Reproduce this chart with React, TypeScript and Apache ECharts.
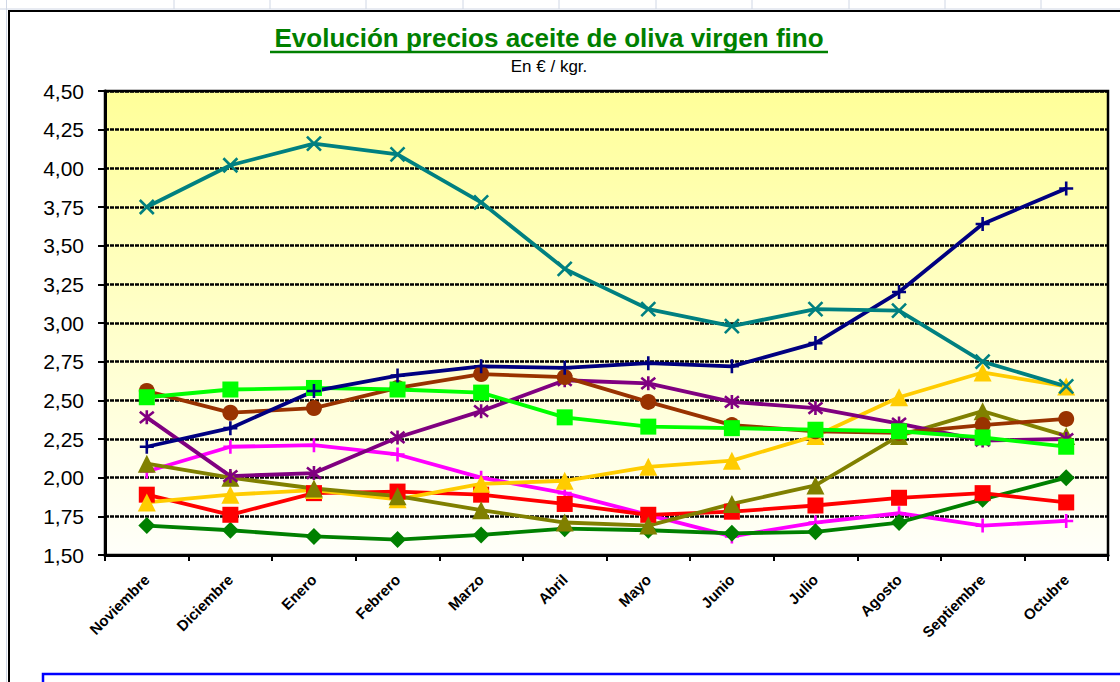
import React, { useEffect, useRef } from "react";
import * as echarts from "echarts";

const categories = ["Noviembre", "Diciembre", "Enero", "Febrero", "Marzo", "Abril", "Mayo", "Junio", "Julio", "Agosto", "Septiembre", "Octubre"];
const yTicks = { min: 1.5, max: 4.5, interval: 0.25 };

const tealX = [3.75, 4.02, 4.16, 4.09, 3.78, 3.35, 3.09, 2.98, 3.09, 3.08, 2.75, 2.59];
const navyPlus = [2.2, 2.32, 2.56, 2.66, 2.72, 2.71, 2.74, 2.72, 2.87, 3.2, 3.64, 3.87];
const brownCircle = [2.56, 2.42, 2.45, 2.58, 2.67, 2.65, 2.49, 2.34, 2.3, 2.29, 2.34, 2.38];
const limeSquare = [2.52, 2.57, 2.58, 2.57, 2.55, 2.39, 2.33, 2.32, 2.31, 2.3, 2.26, 2.2];
const purpleStar = [2.39, 2.01, 2.03, 2.26, 2.43, 2.63, 2.61, 2.49, 2.45, 2.35, 2.24, 2.25];
const magentaPlus = [2.04, 2.2, 2.21, 2.15, 2.0, 1.9, 1.76, 1.62, 1.71, 1.77, 1.69, 1.72];
const oliveTriangle = [2.09, 2.0, 1.93, 1.88, 1.79, 1.71, 1.69, 1.83, 1.95, 2.27, 2.43, 2.27];
const goldTriangle = [1.84, 1.89, 1.92, 1.86, 1.96, 1.98, 2.07, 2.11, 2.27, 2.52, 2.68, 2.59];
const redSquare = [1.89, 1.76, 1.9, 1.91, 1.89, 1.83, 1.76, 1.78, 1.82, 1.87, 1.9, 1.84];
const greenDiamond = [1.69, 1.66, 1.62, 1.6, 1.63, 1.67, 1.66, 1.64, 1.65, 1.71, 1.86, 2.0];

const FONT = "'Liberation Sans', Arial, sans-serif";
const SYM_X = "path://M0,0L10,10M10,0L0,10";
const SYM_PLUS = "path://M5,0L5,10M0,5L10,5";
const SYM_STAR = "path://M0,1L10,9M10,1L0,9M5,0L5,10";

function mk(name: string, data: number[], color: string, symbol: string, size: number, stroke = false) {
  return {
    name,
    type: "line",
    data,
    symbol,
    symbolSize: size,
    showSymbol: true,
    lineStyle: { color, width: 3.8 },
    itemStyle: stroke
      ? { color: "rgba(0,0,0,0)", borderColor: color, borderWidth: 2.6 }
      : { color, borderWidth: 0 },
    emphasis: { disabled: true },
  };
}

export default function App() {
  const ref = useRef<HTMLDivElement>(null);
  useEffect(() => {
    if (!ref.current) return;
    const chart = echarts.init(ref.current, null, { renderer: "svg" });
    const cellLines = [174, 270, 366, 463, 559, 656, 752, 849, 945, 1041];
    const graphics: any[] = [
      { type: "rect", shape: { x: 0, y: 0, width: 1120, height: 682 }, style: { fill: "#ffffff" }, z: -10 },
      ...cellLines.map((x) => ({ type: "line", shape: { x1: x, y1: 0, x2: x, y2: 9 }, style: { stroke: "#D0D7E5", lineWidth: 1 }, z: -5 })),
      { type: "line", shape: { x1: 0, y1: 9, x2: 1120, y2: 9 }, style: { stroke: "#D0D7E5", lineWidth: 1 }, z: -5 },
      { type: "line", shape: { x1: 6.5, y1: 0, x2: 6.5, y2: 682 }, style: { stroke: "#D0D7E5", lineWidth: 1 }, z: -5 },
      { type: "polyline", shape: { points: [[9, 682], [9, 11], [1120, 11]] }, style: { stroke: "#000", lineWidth: 2, fill: "none" }, z: -4 },
      { type: "rect", shape: { x: 43, y: 674, width: 1090, height: 30 }, style: { stroke: "#0000FF", lineWidth: 2.5, fill: "#ffffff" }, z: 5 },
      {
        type: "text", x: 549, y: 38,
        style: { text: "Evolución precios aceite de oliva virgen fino", fill: "#008000", font: `bold 26px ${FONT}`, align: "center", verticalAlign: "middle" },
        z: 5,
      },
      { type: "line", shape: { x1: 270, y1: 52, x2: 828, y2: 52 }, style: { stroke: "#008000", lineWidth: 2.5 }, z: 5 },
      {
        type: "text", x: 549, y: 66,
        style: { text: "En € / kgr.", fill: "#000", font: `17px ${FONT}`, align: "center", verticalAlign: "middle" },
        z: 5,
      },
    ];

    chart.setOption({
      animation: false,
      backgroundColor: "#ffffff",
      graphic: graphics,
      grid: {
        left: 105,
        right: 12,
        top: 91,
        bottom: 127,
        show: true,
        borderColor: "#000",
        borderWidth: 2.5,
        backgroundColor: new echarts.graphic.LinearGradient(0, 0, 0, 1, [
          { offset: 0, color: "#FFFF99" },
          { offset: 1, color: "#FFFFFA" },
        ]),
      },
      xAxis: {
        type: "category",
        data: categories,
        boundaryGap: true,
        axisLine: { lineStyle: { color: "#000", width: 3 } },
        axisTick: { show: true, length: 6, lineStyle: { color: "#000", width: 2 } },
        axisLabel: { rotate: 45, color: "#000", fontWeight: "bold", fontSize: 15, fontFamily: FONT, margin: 22, interval: 0 },
        splitLine: { show: false },
      },
      yAxis: {
        type: "value",
        min: yTicks.min,
        max: yTicks.max,
        interval: yTicks.interval,
        axisLine: { show: true, lineStyle: { color: "#000", width: 3 } },
        axisTick: { show: true, length: 7, lineStyle: { color: "#000", width: 2 } },
        axisLabel: {
          color: "#000", fontSize: 21, fontFamily: FONT, margin: 21,
          formatter: (v: number) => v.toFixed(2).replace(".", ","),
        },
        splitLine: { show: true, lineStyle: { color: "#000", width: 2.5, type: [4, 1] } },
      },
      series: [
        mk("Magenta", magentaPlus, "#FF00FF", SYM_PLUS, 14, true),
        mk("Verde oscuro", greenDiamond, "#008000", "diamond", 17),
        mk("Rojo", redSquare, "#FF0000", "rect", 16),
        mk("Oro", goldTriangle, "#FFCC00", "triangle", 18),
        mk("Oliva", oliveTriangle, "#808000", "triangle", 18),
        mk("Púrpura", purpleStar, "#800080", SYM_STAR, 14, true),
        mk("Marrón", brownCircle, "#993300", "circle", 16),
        mk("Lima", limeSquare, "#00FF00", "rect", 16),
        mk("Azul marino", navyPlus, "#000080", SYM_PLUS, 14, true),
        mk("Verde azulado", tealX, "#008080", SYM_X, 14, true),
      ],
    });
    return () => chart.dispose();
  }, []);
  return <div ref={ref} style={{ position: "absolute", left: 0, top: 0, width: 1120, height: 682 }} />;
}
